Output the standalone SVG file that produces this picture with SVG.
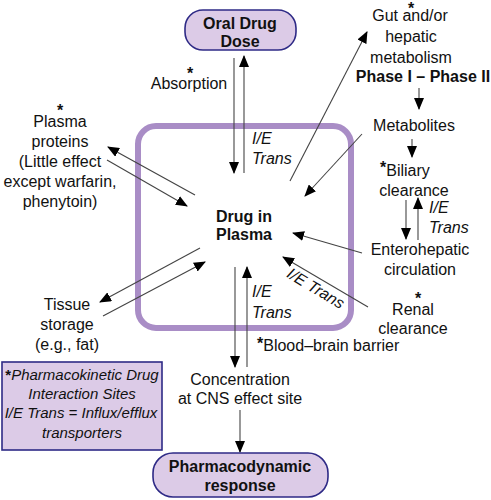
<svg xmlns="http://www.w3.org/2000/svg" width="491" height="500" viewBox="0 0 491 500">
<defs>
<marker id="ah" markerUnits="userSpaceOnUse" markerWidth="12" markerHeight="10" refX="11" refY="5" orient="auto">
<path d="M0,0 L12,5 L0,10 Z" fill="#000"/>
</marker>
<style>
text{font-family:"Liberation Sans",Arial,sans-serif;font-size:16px;fill:#111;text-anchor:middle}
.b{font-weight:bold}
.i{font-style:italic}
.l{text-anchor:start}
.st{font-weight:bold;font-style:normal}
.node{fill:#dccbe7;stroke:#2e2a86;stroke-width:1.6}
.c{stroke:#444;stroke-width:1.1;fill:none}
.a{marker-end:url(#ah)}
</style>
</defs>
<rect width="491" height="500" fill="#fff"/>
<g id="plasma">
<rect x="138" y="126" width="213" height="202" rx="18" fill="none" stroke="#a98dc6" stroke-width="6"/>
<text class="b" x="244" y="222">Drug in</text>
<text class="b" x="244" y="240">Plasma</text>
</g>
<g id="connectors">
<line class="c a" x1="234" y1="58" x2="234" y2="173"/>
<line class="c a" x1="244" y1="173" x2="244" y2="56"/>
<line class="c a" x1="290" y1="181" x2="367" y2="32"/>
<line class="c a" x1="419" y1="88" x2="419" y2="109"/>
<line class="c a" x1="362" y1="134" x2="305" y2="196"/>
<line class="c a" x1="412" y1="139" x2="412" y2="157"/>
<line class="c a" x1="406" y1="200" x2="406" y2="239"/>
<line class="c a" x1="418" y1="240" x2="418" y2="198"/>
<line class="c a" x1="362" y1="253" x2="293" y2="233"/>
<line class="c a" x1="368" y1="307" x2="283" y2="257"/>
<line class="c a" x1="235" y1="267" x2="235" y2="367"/>
<line class="c a" x1="247" y1="367" x2="247" y2="267"/>
<line class="c a" x1="240" y1="410" x2="240" y2="452"/>
<line class="c a" x1="195" y1="195" x2="108" y2="147"/>
<line class="c a" x1="107" y1="160" x2="187" y2="206"/>
<line class="c a" x1="200" y1="248" x2="100" y2="302"/>
<line class="c a" x1="103" y1="316" x2="205" y2="262"/>
</g>
<g id="oral">
<rect class="node" x="185" y="10" width="111" height="40" rx="18"/>
<text class="b" x="240" y="29">Oral Drug</text>
<text class="b" x="240" y="47">Dose</text>
</g>
<g id="absorption">
<text><tspan class="st" x="190" y="79">*</tspan><tspan x="189" y="89">Absorption</tspan></text>
</g>
<g id="ie-top">
<text class="i l" x="252" y="144">I/E</text>
<text class="i l" x="252" y="164">Trans</text>
</g>
<g id="gut">
<text><tspan class="st" x="411" y="14">*</tspan><tspan x="410" y="21">Gut and/or</tspan><tspan x="411" y="42">hepatic</tspan><tspan x="411" y="63">metabolism</tspan></text>
<text class="b" x="423" y="82">Phase I – Phase II</text>
</g>
<g id="metabolites">
<text x="414" y="131">Metabolites</text>
</g>
<g id="biliary">
<text class="l" x="380" y="176"><tspan class="st" dy="-3">*</tspan><tspan dy="3">Biliary</tspan></text>
<text x="414" y="196">clearance</text>
<text class="i l" x="429" y="213">I/E</text>
<text class="i l" x="429" y="233">Trans</text>
</g>
<g id="entero">
<text x="420" y="255">Enterohepatic</text>
<text x="420" y="275">circulation</text>
</g>
<g id="renal">
<text><tspan class="st" x="418" y="304">*</tspan><tspan x="413" y="315">Renal</tspan><tspan x="413" y="334">clearance</tspan></text>
<text class="i" x="0" y="0" transform="translate(313,293) rotate(31)">I/E Trans</text>
</g>
<g id="bbb">
<text class="i l" x="252" y="297">I/E</text>
<text class="i l" x="252" y="318">Trans</text>
<text class="l" x="257" y="351"><tspan class="st" dy="-2">*</tspan><tspan dy="2">Blood–brain barrier</tspan></text>
</g>
<g id="cns">
<text x="240" y="385">Concentration</text>
<text x="240" y="404">at CNS effect site</text>
</g>
<g id="pd">
<rect class="node" x="153" y="453" width="175" height="44" rx="20"/>
<text class="b" x="240" y="472">Pharmacodynamic</text>
<text class="b" x="240" y="491">response</text>
</g>
<g id="proteins">
<text><tspan class="st" x="60" y="116">*</tspan><tspan x="60" y="127">Plasma</tspan><tspan x="60" y="147">proteins</tspan><tspan x="60" y="167">(Little effect</tspan><tspan x="60" y="187">except warfarin,</tspan><tspan x="60" y="207">phenytoin)</tspan></text>
</g>
<g id="tissue">
<text x="67" y="310">Tissue</text>
<text x="67" y="330">storage</text>
<text x="67" y="350">(e.g., fat)</text>
</g>
<g id="legend">
<rect class="node" x="2" y="362" width="160" height="88"/>
<text class="i" x="82" y="380" style="font-size:15px"><tspan class="st">*</tspan>Pharmacokinetic Drug</text>
<text class="i" x="82" y="399" style="font-size:15px">Interaction Sites</text>
<text class="i" x="81" y="418" style="font-size:15px">I/E Trans = Influx/efflux</text>
<text class="i" x="82" y="438" style="font-size:15px">transporters</text>
</g>
</svg>
